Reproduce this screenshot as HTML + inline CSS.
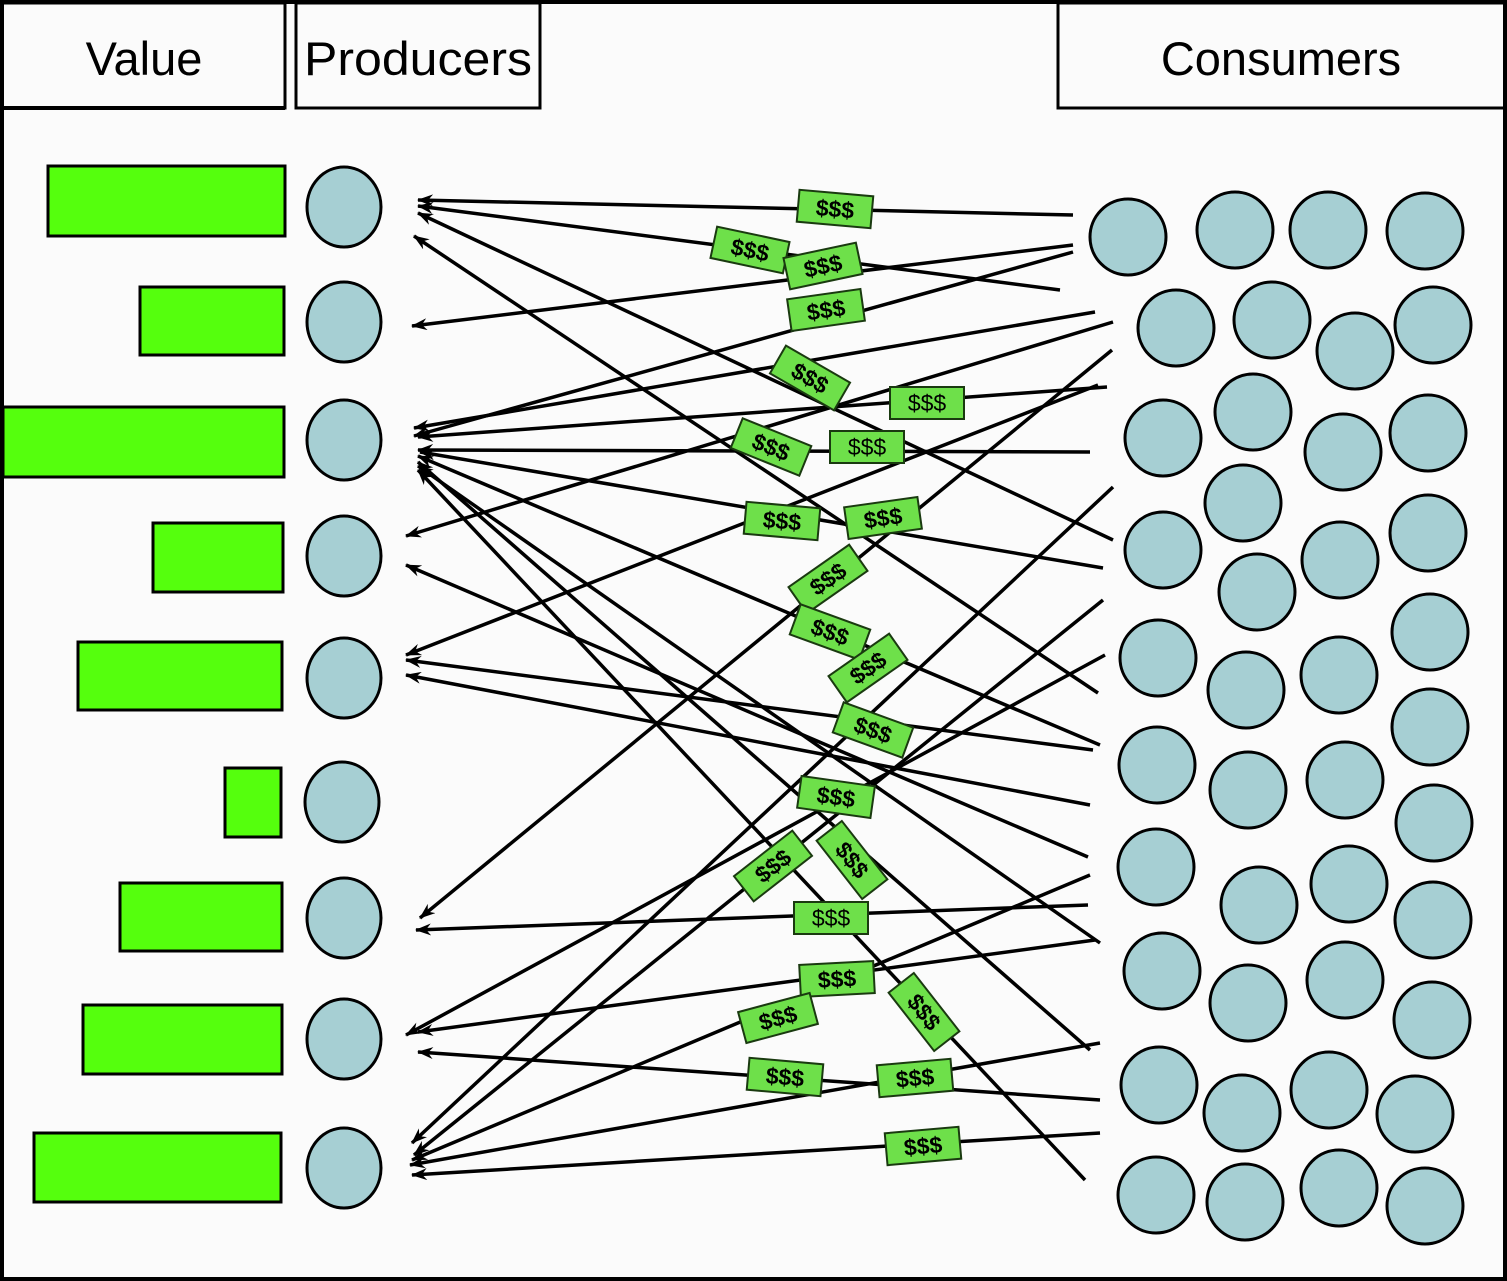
<!DOCTYPE html>
<html><head><style>html,body{margin:0;padding:0;background:#fbfbfb}svg{display:block}</style></head>
<body>
<svg width="1507" height="1281" viewBox="0 0 1507 1281" xmlns="http://www.w3.org/2000/svg">
<defs>
<marker id="ah" markerWidth="16" markerHeight="12" refX="15" refY="6" orient="auto" markerUnits="userSpaceOnUse">
<path d="M16,6 L0,0 L5,6 L0,12 Z" fill="#000"/>
</marker>
</defs>
<rect x="0" y="0" width="1507" height="1281" fill="#fbfbfb"/>
<rect x="2" y="2" width="1503" height="1277" fill="none" stroke="#000" stroke-width="4"/>
<g fill="none" stroke="#000" stroke-width="3">
<rect x="2" y="3" width="283" height="105"/>
<rect x="296" y="3" width="244" height="105"/>
<rect x="1058" y="3" width="447" height="105"/>
</g>
<line x1="2" y1="108" x2="285" y2="108" stroke="#000" stroke-width="4"/>
<g font-family="Liberation Sans, sans-serif" font-size="47" text-anchor="middle" fill="#000">
<text x="144" y="75">Value</text>
<text x="418" y="75" textLength="228" lengthAdjust="spacingAndGlyphs">Producers</text>
<text x="1281" y="75">Consumers</text>
</g>
<g fill="#55ff0d" stroke="#000" stroke-width="3">
<rect x="48" y="166" width="237" height="70"/>
<rect x="140" y="287" width="144" height="68"/>
<rect x="3" y="407" width="281" height="70"/>
<rect x="153" y="523" width="130" height="69"/>
<rect x="78" y="642" width="204" height="68"/>
<rect x="225" y="768" width="56" height="69"/>
<rect x="120" y="883" width="162" height="68"/>
<rect x="83" y="1005" width="199" height="69"/>
<rect x="34" y="1133" width="247" height="69"/>
</g>
<g fill="#a6cfd3" stroke="#000" stroke-width="3">
<ellipse cx="344" cy="207" rx="37" ry="40"/>
<ellipse cx="344" cy="322" rx="37" ry="40"/>
<ellipse cx="344" cy="440" rx="37" ry="40"/>
<ellipse cx="344" cy="556" rx="37" ry="40"/>
<ellipse cx="344" cy="678" rx="37" ry="40"/>
<ellipse cx="342" cy="802" rx="37" ry="40"/>
<ellipse cx="344" cy="918" rx="37" ry="40"/>
<ellipse cx="344" cy="1039" rx="37" ry="40"/>
<ellipse cx="344" cy="1168" rx="37" ry="40"/>
</g>
<g fill="#a6cfd3" stroke="#000" stroke-width="3">
<circle cx="1128" cy="237" r="38"/><circle cx="1235" cy="230" r="38"/><circle cx="1328" cy="230" r="38"/><circle cx="1425" cy="231" r="38"/>
<circle cx="1176" cy="328" r="38"/><circle cx="1272" cy="320" r="38"/><circle cx="1355" cy="351" r="38"/><circle cx="1433" cy="325" r="38"/>
<circle cx="1163" cy="438" r="38"/><circle cx="1253" cy="412" r="38"/><circle cx="1343" cy="452" r="38"/><circle cx="1428" cy="433" r="38"/>
<circle cx="1243" cy="503" r="38"/><circle cx="1163" cy="550" r="38"/><circle cx="1340" cy="560" r="38"/><circle cx="1428" cy="533" r="38"/>
<circle cx="1257" cy="592" r="38"/><circle cx="1158" cy="658" r="38"/><circle cx="1246" cy="690" r="38"/><circle cx="1339" cy="675" r="38"/><circle cx="1430" cy="632" r="38"/>
<circle cx="1157" cy="765" r="38"/><circle cx="1430" cy="727" r="38"/><circle cx="1248" cy="790" r="38"/><circle cx="1345" cy="780" r="38"/>
<circle cx="1156" cy="867" r="38"/><circle cx="1434" cy="823" r="38"/><circle cx="1259" cy="905" r="38"/><circle cx="1349" cy="884" r="38"/>
<circle cx="1162" cy="971" r="38"/><circle cx="1433" cy="920" r="38"/><circle cx="1248" cy="1003" r="38"/><circle cx="1345" cy="980" r="38"/><circle cx="1432" cy="1020" r="38"/>
<circle cx="1159" cy="1085" r="38"/><circle cx="1242" cy="1113" r="38"/><circle cx="1329" cy="1090" r="38"/><circle cx="1415" cy="1114" r="38"/>
<circle cx="1156" cy="1195" r="38"/><circle cx="1245" cy="1202" r="38"/><circle cx="1339" cy="1188" r="38"/><circle cx="1425" cy="1206" r="38"/>
</g>
<g stroke="#000" stroke-width="3.5" marker-end="url(#ah)">
<line x1="1073" y1="215" x2="418" y2="200"/>
<line x1="1060" y1="290" x2="418" y2="206"/>
<line x1="1073" y1="245" x2="412" y2="326"/>
<line x1="1073" y1="252" x2="414" y2="436"/>
<line x1="1095" y1="312" x2="414" y2="428"/>
<line x1="1113" y1="322" x2="406" y2="536"/>
<line x1="1107" y1="387" x2="418" y2="437"/>
<line x1="1090" y1="452" x2="418" y2="450"/>
<line x1="1112" y1="350" x2="420" y2="918"/>
<line x1="1113" y1="487" x2="412" y2="1143"/>
<line x1="1103" y1="600" x2="414" y2="1155"/>
<line x1="1105" y1="655" x2="406" y2="1035"/>
<line x1="1113" y1="540" x2="418" y2="213"/>
<line x1="1103" y1="568" x2="420" y2="452"/>
<line x1="1098" y1="693" x2="414" y2="236"/>
<line x1="1100" y1="745" x2="418" y2="456"/>
<line x1="1093" y1="750" x2="406" y2="660"/>
<line x1="1090" y1="805" x2="406" y2="675"/>
<line x1="1088" y1="857" x2="406" y2="565"/>
<line x1="1090" y1="1050" x2="418" y2="462"/>
<line x1="1085" y1="1180" x2="418" y2="470"/>
<line x1="1100" y1="943" x2="418" y2="466"/>
<line x1="1088" y1="905" x2="416" y2="930"/>
<line x1="1095" y1="940" x2="418" y2="1032"/>
<line x1="1100" y1="1100" x2="418" y2="1052"/>
<line x1="1100" y1="1043" x2="410" y2="1165"/>
<line x1="1100" y1="1133" x2="412" y2="1175"/>
<line x1="1090" y1="875" x2="412" y2="1160"/>
<line x1="1098" y1="385" x2="406" y2="655"/>
</g>
<g font-family="Liberation Sans, sans-serif" font-size="23" font-weight="bold" text-anchor="middle" fill="#000">
<g transform="translate(835,209) rotate(5)"><rect x="-37" y="-16" width="74" height="32" fill="#6ee04a" stroke="#1a3a10" stroke-width="2"/><text y="8">$$$</text></g>
<g transform="translate(750,250) rotate(12)"><rect x="-37" y="-16" width="74" height="32" fill="#6ee04a" stroke="#1a3a10" stroke-width="2"/><text y="8">$$$</text></g>
<g transform="translate(823,266) rotate(-12)"><rect x="-37" y="-16" width="74" height="32" fill="#6ee04a" stroke="#1a3a10" stroke-width="2"/><text y="8">$$$</text></g>
<g transform="translate(826,310) rotate(-8)"><rect x="-37" y="-16" width="74" height="32" fill="#6ee04a" stroke="#1a3a10" stroke-width="2"/><text y="8">$$$</text></g>
<g transform="translate(810,378) rotate(30)"><rect x="-37" y="-16" width="74" height="32" fill="#6ee04a" stroke="#1a3a10" stroke-width="2"/><text y="8">$$$</text></g>
<g transform="translate(927,403)"><rect x="-37" y="-16" width="74" height="32" fill="#6ee04a" stroke="#1a3a10" stroke-width="2"/><text y="8" font-weight="normal">$$$</text></g>
<g transform="translate(771,447) rotate(22)"><rect x="-37" y="-16" width="74" height="32" fill="#6ee04a" stroke="#1a3a10" stroke-width="2"/><text y="8">$$$</text></g>
<g transform="translate(867,447)"><rect x="-37" y="-16" width="74" height="32" fill="#6ee04a" stroke="#1a3a10" stroke-width="2"/><text y="8" font-weight="normal">$$$</text></g>
<g transform="translate(782,521) rotate(5)"><rect x="-37" y="-16" width="74" height="32" fill="#6ee04a" stroke="#1a3a10" stroke-width="2"/><text y="8">$$$</text></g>
<g transform="translate(883,518) rotate(-8)"><rect x="-37" y="-16" width="74" height="32" fill="#6ee04a" stroke="#1a3a10" stroke-width="2"/><text y="8">$$$</text></g>
<g transform="translate(828,579) rotate(-35)"><rect x="-37" y="-16" width="74" height="32" fill="#6ee04a" stroke="#1a3a10" stroke-width="2"/><text y="8">$$$</text></g>
<g transform="translate(830,632) rotate(20)"><rect x="-37" y="-16" width="74" height="32" fill="#6ee04a" stroke="#1a3a10" stroke-width="2"/><text y="8">$$$</text></g>
<g transform="translate(868,668) rotate(-35)"><rect x="-37" y="-16" width="74" height="32" fill="#6ee04a" stroke="#1a3a10" stroke-width="2"/><text y="8">$$$</text></g>
<g transform="translate(873,730) rotate(20)"><rect x="-37" y="-16" width="74" height="32" fill="#6ee04a" stroke="#1a3a10" stroke-width="2"/><text y="8">$$$</text></g>
<g transform="translate(836,797) rotate(8)"><rect x="-37" y="-16" width="74" height="32" fill="#6ee04a" stroke="#1a3a10" stroke-width="2"/><text y="8">$$$</text></g>
<g transform="translate(773,866) rotate(-38)"><rect x="-37" y="-16" width="74" height="32" fill="#6ee04a" stroke="#1a3a10" stroke-width="2"/><text y="8">$$$</text></g>
<g transform="translate(852,860) rotate(52)"><rect x="-37" y="-16" width="74" height="32" fill="#6ee04a" stroke="#1a3a10" stroke-width="2"/><text y="8">$$$</text></g>
<g transform="translate(831,918)"><rect x="-37" y="-16" width="74" height="32" fill="#6ee04a" stroke="#1a3a10" stroke-width="2"/><text y="8" font-weight="normal">$$$</text></g>
<g transform="translate(837,979) rotate(-3)"><rect x="-37" y="-16" width="74" height="32" fill="#6ee04a" stroke="#1a3a10" stroke-width="2"/><text y="8">$$$</text></g>
<g transform="translate(778,1018) rotate(-15)"><rect x="-37" y="-16" width="74" height="32" fill="#6ee04a" stroke="#1a3a10" stroke-width="2"/><text y="8">$$$</text></g>
<g transform="translate(924,1012) rotate(52)"><rect x="-37" y="-16" width="74" height="32" fill="#6ee04a" stroke="#1a3a10" stroke-width="2"/><text y="8">$$$</text></g>
<g transform="translate(785,1077) rotate(5)"><rect x="-37" y="-16" width="74" height="32" fill="#6ee04a" stroke="#1a3a10" stroke-width="2"/><text y="8">$$$</text></g>
<g transform="translate(915,1078) rotate(-5)"><rect x="-37" y="-16" width="74" height="32" fill="#6ee04a" stroke="#1a3a10" stroke-width="2"/><text y="8">$$$</text></g>
<g transform="translate(923,1146) rotate(-5)"><rect x="-37" y="-16" width="74" height="32" fill="#6ee04a" stroke="#1a3a10" stroke-width="2"/><text y="8">$$$</text></g>
</g>
</svg>
</body></html>
